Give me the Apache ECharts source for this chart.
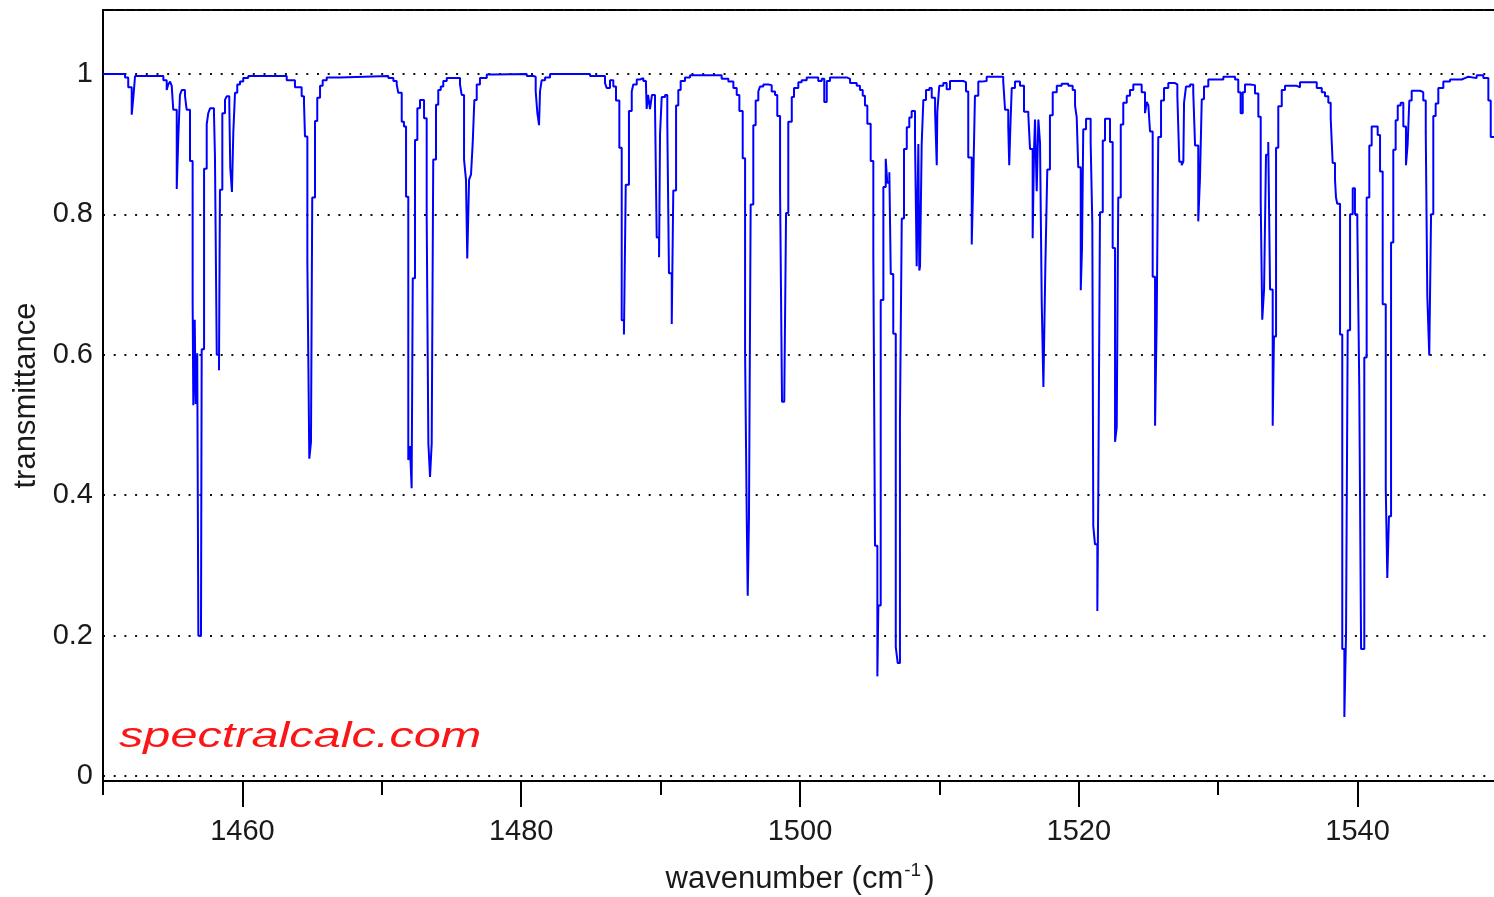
<!DOCTYPE html>
<html>
<head>
<meta charset="utf-8">
<title>transmittance</title>
<script src="https://cdn.jsdelivr.net/npm/echarts@6/dist/echarts.min.js"></script>
<style>
html, body { margin: 0; padding: 0; background: #fff; }
#picture { width: 1494px; height: 897px; }
</style>
</head>
<body>
<div id="picture"></div>
<script>
// each point starts a plateau of the stepped spectrum (cm-1, transmittance)
var wavenumber = [
    1450.00, 1451.58, 1451.81, 1452.06, 1452.17, 1452.30, 1454.33, 1454.57, 1454.68, 1454.81,
    1454.93, 1455.04, 1455.29, 1455.40, 1455.52, 1455.65, 1455.88, 1456.00, 1456.24, 1456.43,
    1456.48, 1456.58, 1456.65, 1456.76, 1456.84, 1457.03, 1457.08, 1457.25, 1457.44, 1457.55,
    1457.68, 1457.96, 1458.03, 1458.16, 1458.32, 1458.39, 1458.56, 1458.75, 1458.87, 1459.06,
    1459.13, 1459.25, 1459.35, 1459.47, 1459.63, 1459.83, 1460.06, 1460.42, 1463.18, 1463.77,
    1464.25, 1464.42, 1464.49, 1464.66, 1464.80, 1464.92, 1465.01, 1465.21, 1465.37, 1465.57,
    1465.76, 1466.05, 1467.00, 1470.47, 1470.83, 1471.07, 1471.18, 1471.43, 1471.59, 1471.74,
    1471.90, 1472.02, 1472.14, 1472.22, 1472.38, 1472.55, 1472.74, 1473.03, 1473.22, 1473.34,
    1473.46, 1473.58, 1473.69, 1473.89, 1474.05, 1474.23, 1474.41, 1474.66, 1475.61, 1475.73,
    1475.90, 1476.04, 1476.13, 1476.26, 1476.40, 1476.52, 1476.64, 1476.81, 1477.04, 1477.53,
    1478.00, 1480.40, 1480.87, 1481.04, 1481.16, 1481.28, 1481.35, 1481.47, 1481.71, 1482.07,
    1484.94, 1486.01, 1486.13, 1486.37, 1486.61, 1486.80, 1487.04, 1487.21, 1487.37, 1487.50,
    1487.73, 1487.93, 1488.04, 1488.29, 1488.52, 1488.76, 1488.95, 1489.00, 1489.10, 1489.24,
    1489.38, 1489.60, 1489.72, 1489.89, 1489.96, 1490.08, 1490.32, 1490.48, 1490.60, 1490.80,
    1490.91, 1491.11, 1491.27, 1491.44, 1491.75, 1492.11, 1494.38, 1494.86, 1495.22, 1495.46,
    1495.65, 1495.89, 1496.06, 1496.18, 1496.25, 1496.34, 1496.46, 1496.65, 1496.82, 1497.01,
    1497.13, 1497.37, 1497.73, 1497.97, 1498.21, 1498.37, 1498.57, 1498.71, 1498.87, 1499.00,
    1499.16, 1499.41, 1499.57, 1499.88, 1500.12, 1500.48, 1501.31, 1501.56, 1501.74, 1501.92,
    1502.15, 1503.35, 1503.59, 1504.07, 1504.30, 1504.50, 1504.66, 1504.83, 1505.07, 1505.26,
    1505.38, 1505.55, 1505.62, 1505.79, 1505.98, 1506.15, 1506.26, 1506.41, 1506.51, 1506.69,
    1506.87, 1507.01, 1507.17, 1507.30, 1507.46, 1507.66, 1507.84, 1508.01, 1508.25, 1508.37,
    1508.49, 1508.56, 1508.61, 1508.73, 1508.85, 1509.04, 1509.28, 1509.45, 1509.69, 1509.81,
    1509.85, 1509.99, 1510.28, 1510.52, 1510.76, 1511.71, 1511.91, 1512.07, 1512.32, 1512.43,
    1512.55, 1512.79, 1513.03, 1513.39, 1514.58, 1514.71, 1514.94, 1515.01, 1515.09, 1515.19,
    1515.42, 1515.78, 1516.07, 1516.38, 1516.50, 1516.69, 1516.79, 1516.86, 1516.98, 1517.10,
    1517.22, 1517.34, 1517.46, 1517.60, 1517.74, 1517.93, 1518.13, 1518.42, 1518.77, 1519.25,
    1519.56, 1519.73, 1519.85, 1519.96, 1520.14, 1520.23, 1520.32, 1520.52, 1520.85, 1520.97,
    1521.04, 1521.16, 1521.33, 1521.40, 1521.52, 1521.72, 1521.88, 1522.24, 1522.43, 1522.60,
    1522.72, 1522.83, 1523.01, 1523.19, 1523.44, 1523.67, 1523.91, 1524.51, 1524.75, 1524.87,
    1524.99, 1525.11, 1525.30, 1525.47, 1525.59, 1525.70, 1525.90, 1526.11, 1526.42, 1526.90,
    1527.07, 1527.21, 1527.38, 1527.50, 1527.55, 1527.69, 1527.98, 1528.21, 1528.34, 1528.57,
    1528.69, 1528.82, 1528.98, 1529.29, 1530.37, 1531.21, 1531.44, 1531.61, 1531.76, 1531.92,
    1532.28, 1532.64, 1532.88, 1533.05, 1533.16, 1533.29, 1533.43, 1533.59, 1533.72, 1533.91,
    1534.00, 1534.15, 1534.31, 1534.56, 1534.79, 1535.63, 1535.87, 1537.07, 1537.43, 1537.66,
    1537.90, 1538.07, 1538.21, 1538.38, 1538.45, 1538.54, 1538.74, 1538.90, 1539.05, 1539.17,
    1539.29, 1539.46, 1539.65, 1539.81, 1539.98, 1540.12, 1540.25, 1540.48, 1540.65, 1540.84,
    1541.01, 1541.44, 1541.61, 1541.80, 1542.02, 1542.13, 1542.25, 1542.40, 1542.56, 1542.73,
    1542.88, 1543.09, 1543.28, 1543.47, 1543.59, 1543.71, 1543.88, 1544.48, 1544.71, 1544.89,
    1545.00, 1545.14, 1545.27, 1545.43, 1545.60, 1545.79, 1546.15, 1546.63, 1547.47, 1547.70,
    1547.94, 1548.54, 1549.02, 1549.38, 1549.55, 1550.00
];
var transmittance = [
    1.000, 0.995, 0.981, 0.942, 0.965, 0.997, 0.991, 0.977, 0.985, 0.989,
    0.983, 0.949, 0.836, 0.908, 0.970, 0.977, 0.969, 0.949, 0.876, 0.676,
    0.528, 0.650, 0.530, 0.602, 0.200, 0.210, 0.608, 0.865, 0.928, 0.944,
    0.951, 0.944, 0.884, 0.600, 0.578, 0.835, 0.944, 0.963, 0.968, 0.957,
    0.866, 0.832, 0.918, 0.973, 0.985, 0.989, 0.994, 0.997, 0.991, 0.981,
    0.968, 0.958, 0.911, 0.733, 0.452, 0.476, 0.824, 0.933, 0.966, 0.983,
    0.991, 0.995, 0.997, 0.994, 0.990, 0.985, 0.973, 0.932, 0.925, 0.825,
    0.450, 0.470, 0.410, 0.709, 0.906, 0.951, 0.963, 0.937, 0.797, 0.474,
    0.426, 0.474, 0.878, 0.956, 0.977, 0.982, 0.990, 0.994, 0.985, 0.970,
    0.878, 0.849, 0.737, 0.849, 0.857, 0.901, 0.963, 0.985, 0.994, 0.999,
    1.000, 0.997, 0.996, 0.975, 0.944, 0.927, 0.975, 0.991, 0.995, 1.000,
    0.997, 0.987, 0.980, 0.991, 0.982, 0.962, 0.895, 0.649, 0.629, 0.842,
    0.947, 0.975, 0.985, 0.992, 0.994, 0.990, 0.985, 0.950, 0.970, 0.950,
    0.970, 0.952, 0.767, 0.739, 0.915, 0.967, 0.970, 0.930, 0.716, 0.644,
    0.834, 0.955, 0.977, 0.990, 0.995, 0.998, 0.993, 0.989, 0.980, 0.970,
    0.947, 0.880, 0.604, 0.368, 0.257, 0.368, 0.814, 0.927, 0.962, 0.975,
    0.982, 0.985, 0.984, 0.975, 0.970, 0.940, 0.834, 0.533, 0.531, 0.802,
    0.932, 0.967, 0.980, 0.988, 0.991, 0.995, 0.990, 0.993, 0.960, 0.990,
    0.995, 0.993, 0.987, 0.983, 0.977, 0.969, 0.955, 0.929, 0.876, 0.740,
    0.328, 0.142, 0.243, 0.678, 0.839, 0.879, 0.845, 0.860, 0.715, 0.630,
    0.184, 0.161, 0.509, 0.794, 0.893, 0.924, 0.938, 0.947, 0.907, 0.726,
    0.900, 0.720, 0.726, 0.901, 0.963, 0.977, 0.980, 0.966, 0.946, 0.870,
    0.946, 0.983, 0.987, 0.978, 0.990, 0.988, 0.975, 0.881, 0.757, 0.850,
    0.969, 0.989, 0.990, 0.996, 0.989, 0.949, 0.924, 0.870, 0.924, 0.980,
    0.989, 0.983, 0.946, 0.941, 0.893, 0.766, 0.893, 0.935, 0.833, 0.935,
    0.901, 0.675, 0.554, 0.726, 0.864, 0.941, 0.974, 0.983, 0.986, 0.983,
    0.977, 0.955, 0.938, 0.867, 0.692, 0.752, 0.921, 0.936, 0.903, 0.785,
    0.356, 0.330, 0.235, 0.409, 0.803, 0.905, 0.936, 0.903, 0.752, 0.476,
    0.497, 0.824, 0.928, 0.959, 0.969, 0.977, 0.985, 0.974, 0.944, 0.960,
    0.955, 0.918, 0.711, 0.499, 0.652, 0.910, 0.962, 0.980, 0.987, 0.985,
    0.969, 0.875, 0.870, 0.875, 0.959, 0.982, 0.985, 0.974, 0.898, 0.790,
    0.850, 0.964, 0.982, 0.992, 0.996, 0.992, 0.974, 0.944, 0.974, 0.985,
    0.984, 0.972, 0.939, 0.818, 0.650, 0.693, 0.885, 0.903, 0.693, 0.499,
    0.626, 0.895, 0.954, 0.977, 0.983, 0.981, 0.988, 0.980, 0.974, 0.968,
    0.959, 0.937, 0.873, 0.849, 0.824, 0.815, 0.629, 0.181, 0.084, 0.202,
    0.635, 0.800, 0.837, 0.800, 0.788, 0.556, 0.181, 0.596, 0.824, 0.898,
    0.925, 0.913, 0.861, 0.672, 0.410, 0.282, 0.370, 0.760, 0.892, 0.934,
    0.955, 0.959, 0.925, 0.870, 0.900, 0.962, 0.976, 0.974, 0.962, 0.916,
    0.684, 0.599, 0.800, 0.940, 0.958, 0.980, 0.989, 0.992, 0.994, 0.996,
    0.994, 0.998, 0.994, 0.962, 0.910, 0.910
];
var labelTicks = [1460, 1480, 1500, 1520, 1540];

var spectrum = wavenumber.map(function (w, i) {
    return [w, transmittance[i]];
});

var font = '"Liberation Sans", Arial, Helvetica, sans-serif';
var textColor = '#1a1a1a';

var myChart = echarts.init(document.getElementById('picture'));
var option = {
    backgroundColor: '#ffffff',
    animation: false,
    grid: [
        {left: 103, right: -3, top: 10, bottom: 116, outerBoundsMode: 'none', show: true, borderColor: '#000', borderWidth: 2},
        // same scale, started at 1440 so the long labelled ticks fall every 20
        {left: -36.4, right: -3, top: 10, bottom: 116, outerBoundsMode: 'none'}
    ],
    xAxis: [
        {
            gridIndex: 0,
            type: 'value',
            min: 1450,
            max: 1550,
            interval: 10,
            axisLine: {onZero: false, lineStyle: {color: '#000', width: 2}},
            axisTick: {length: 14, lineStyle: {color: '#000', width: 2}},
            axisLabel: {show: false},
            splitLine: {show: false},
            name: '{a|wavenumber (cm}{sup|-1}{a|)}',
            nameLocation: 'middle',
            nameGap: 80,
            nameTextStyle: {
                rich: {
                    a: {fontSize: 31, fontFamily: font, color: textColor, lineHeight: 36},
                    sup: {fontSize: 19, fontFamily: font, color: textColor, verticalAlign: 'top', lineHeight: 36, padding: [0, 3, 0, 1]}
                }
            }
        },
        {
            gridIndex: 1,
            type: 'value',
            min: 1440,
            max: 1550,
            interval: 20,
            axisLine: {show: false, onZero: false},
            axisTick: {length: 26, lineStyle: {color: '#000', width: 2}},
            axisLabel: {
                margin: 36,
                fontSize: 29,
                fontFamily: font,
                color: textColor,
                formatter: function (v) {
                    return labelTicks.indexOf(v) >= 0 ? String(v) : '';
                }
            },
            splitLine: {show: false}
        }
    ],
    yAxis: [
        {
            gridIndex: 0,
            type: 'value',
            min: -0.007,
            max: 1.091,
            splitNumber: 5,
            minInterval: 0.2,
            maxInterval: 0.2,
            axisLine: {show: true, onZero: false, lineStyle: {color: '#000', width: 2}},
            axisTick: {show: false},
            axisLabel: {
                margin: 10,
                fontSize: 29,
                fontFamily: font,
                color: textColor,
                showMinLabel: false,
                showMaxLabel: false
            },
            splitLine: {show: true, lineStyle: {color: '#111', width: 2, type: [2, 8.7]}},
            name: 'transmittance',
            nameLocation: 'middle',
            nameRotate: 90,
            nameGap: 60,
            nameTextStyle: {fontSize: 31, fontFamily: font, color: textColor}
        },
        {gridIndex: 1, type: 'value', min: 0, max: 1, show: false}
    ],
    graphic: [
        {
            type: 'text',
            left: 119,
            top: 720,
            scaleX: 1.39,
            silent: true,
            style: {
                text: 'spectralcalc.com',
                font: 'italic 35px "Liberation Sans", Arial, sans-serif',
                fill: '#fa1616'
            }
        }
    ],
    series: [
        {
            name: 'transmittance',
            type: 'line',
            xAxisIndex: 0,
            yAxisIndex: 0,
            data: spectrum,
            step: 'end',
            showSymbol: false,
            symbol: 'none',
            silent: true,
            lineStyle: {color: '#0000ff', width: 2}
        }
    ]
};
myChart.setOption(option);
</script>
</body>
</html>
